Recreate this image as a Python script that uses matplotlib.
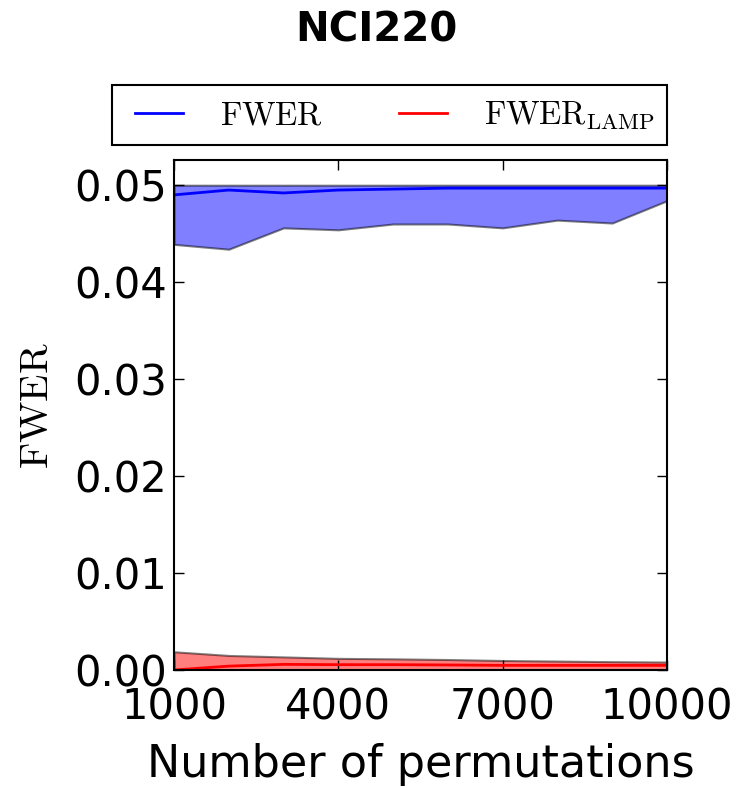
import numpy as np
import matplotlib
matplotlib.use("Agg")
import matplotlib.pyplot as plt
from matplotlib.patches import Rectangle

plt.rcParams['mathtext.fontset'] = 'cm'

n_perm = [1000, 2000, 3000, 4000, 5000, 6000, 7000, 8000, 9000, 10000]

fwer_mean = [0.0490, 0.0495, 0.0492, 0.0495, 0.0496, 0.0497, 0.0497, 0.0497, 0.0497, 0.0497]
fwer_low = [0.0439, 0.0434, 0.0456, 0.0454, 0.0460, 0.0460, 0.0456, 0.0464, 0.0461, 0.0484]
fwer_high = [0.0500] * 10

lamp_mean = [0.0000, 0.00040, 0.00058, 0.00055, 0.00055, 0.00052, 0.00048, 0.00048, 0.00048, 0.00048]
lamp_low = [0.0] * 10
lamp_high = [0.00188, 0.00150, 0.00135, 0.00120, 0.00115, 0.00108, 0.00098, 0.00092, 0.00086, 0.00082]

xticks = [1000, 4000, 7000, 10000]
yticks = [0.00, 0.01, 0.02, 0.03, 0.04, 0.05]

fig = plt.figure(figsize=(7.54, 7.88), dpi=100)
ax = fig.add_axes([174 / 754, 1 - 670 / 788, (667 - 174) / 754, (670 - 160) / 788])

ax.fill_between(n_perm, fwer_low, fwer_high, facecolor='blue', alpha=0.5, edgecolor='black', linewidth=1.5)
ax.fill_between(n_perm, lamp_low, lamp_high, facecolor='red', alpha=0.5, edgecolor='black', linewidth=1.5)
l1, = ax.plot(n_perm, fwer_mean, color='blue', linewidth=2)
l2, = ax.plot(n_perm, lamp_mean, color='red', linewidth=2)

ax.set_xlim(1000, 10000)
ax.set_ylim(0, 0.0526)
ax.set_xticks(xticks)
ax.set_yticks(yticks)
ax.set_yticklabels(["%.2f" % v for v in yticks])
ax.tick_params(direction='in', top=True, right=True, labelsize=30, length=7, width=1)
ax.tick_params(axis='y', pad=5)
ax.tick_params(axis='x', pad=12)
for s in ax.spines.values():
    s.set_linewidth(1.5)

ax.set_xlabel("Number of permutations", fontsize=32, labelpad=10)
ax.set_ylabel(r"$\mathrm{FWER}$", fontsize=29)
ax.yaxis.set_label_coords(-0.238, 0.518)

fig.text(376 / 754, 1 - 31 / 788, "NCI220", fontsize=29, fontweight='bold', ha='center', va='center')

# legend box drawn separately, entries placed inside it
fig.patches.append(Rectangle((112 / 754, 1 - 145 / 788), 555 / 754, 60 / 788, transform=fig.transFigure,
                             fill=False, edgecolor='black', linewidth=1.5))
leg = fig.legend([l1, l2], [r"$\mathrm{FWER}$", r"$\mathrm{FWER}_{\mathrm{LAMP}}$"],
                 loc='center left', ncol=2, fontsize=23.5, frameon=False,
                 bbox_to_anchor=(135 / 754, 1 - 115 / 788),
                 borderaxespad=0, borderpad=0,
                 handlelength=1.47, handletextpad=1.13, columnspacing=2.33)

fig.savefig("out.png", dpi=100)
